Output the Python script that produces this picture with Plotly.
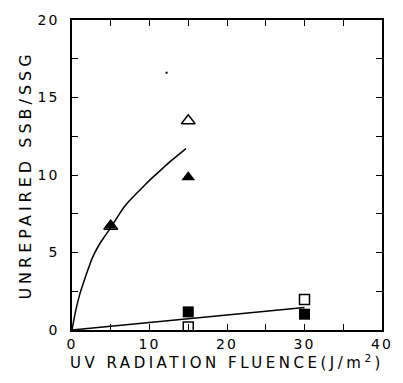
import plotly.graph_objects as go

# Data
tri_filled_x = [5, 15]
tri_filled_y = [6.75, 9.85]
tri_open_x = [5, 15]
tri_open_y = [6.7, 13.5]
sq_filled_x = [15, 30]
sq_filled_y = [1.17, 1.02]
sq_open_x = [15, 30]
sq_open_y = [0.2, 1.97]
speck_x = [12.2]
speck_y = [16.6]

curve_x = [0, 0.5, 1.0, 1.58, 2.1, 2.64, 3.5, 4.3, 5.0, 6.0, 6.9, 8.0, 9.0, 10.1, 11.2, 12.5, 13.6, 14.7]
curve_y = [0, 1.3, 2.3, 3.2, 3.95, 4.67, 5.5, 6.1, 6.6, 7.4, 8.05, 8.65, 9.15, 9.7, 10.2, 10.8, 11.25, 11.7]
line_x = [0, 30]
line_y = [0, 1.45]

x_ticks = [0, 5, 10, 15, 20, 25, 30, 35, 40]
x_ticktext = ["0", "", "10", "", "20", "", "30", "", "40"]
y_ticks = [0, 2.5, 5, 7.5, 10, 12.5, 15, 17.5, 20]
y_ticktext = ["0", "", "5", "", "10", "", "15", "", "20"]

fig = go.Figure()
fig.add_trace(go.Scatter(x=curve_x, y=curve_y, mode="lines", line=dict(color="black", width=1.5, shape="spline"), hoverinfo="skip"))
fig.add_trace(go.Scatter(x=line_x, y=line_y, mode="lines", line=dict(color="black", width=1.5), hoverinfo="skip"))
fig.add_trace(go.Scatter(x=tri_open_x, y=tri_open_y, mode="markers",
                         marker=dict(symbol="triangle-up-open", size=12, color="black", line=dict(width=1.5))))
fig.add_trace(go.Scatter(x=tri_filled_x, y=tri_filled_y, mode="markers",
                         marker=dict(symbol="triangle-up", size=12, color="black")))
fig.add_trace(go.Scatter(x=sq_open_x, y=sq_open_y, mode="markers",
                         marker=dict(symbol="square-open", size=10, color="black", line=dict(width=1.5))))
fig.add_trace(go.Scatter(x=sq_filled_x, y=sq_filled_y, mode="markers",
                         marker=dict(symbol="square", size=11, color="black")))
fig.add_trace(go.Scatter(x=speck_x, y=speck_y, mode="markers",
                         marker=dict(symbol="square", size=2, color="black")))

axis_common = dict(
    showgrid=False, zeroline=False, showline=True, linecolor="black", linewidth=1.5,
    mirror="ticks", ticks="inside", ticklen=6, tickwidth=1.2, tickcolor="black",
    tickfont=dict(family="DejaVu Sans", size=14, color="black"),
)
fig.update_xaxes(range=[0, 40], tickmode="array", tickvals=x_ticks, ticktext=x_ticktext,
                 title=dict(text="UV RADIATION FLUENCE(J/m<sup>2</sup>)", standoff=6,
                            font=dict(family="DejaVu Sans", size=15, color="black")),
                 **axis_common)
fig.update_yaxes(range=[0, 20], tickmode="array", tickvals=y_ticks, ticktext=y_ticktext,
                 ticklabelstandoff=8,
                 title=dict(text="UNREPAIRED SSB/SSG", standoff=6,
                            font=dict(family="DejaVu Sans", size=16, color="black")),
                 **axis_common)
fig.update_layout(
    width=403, height=383, showlegend=False,
    margin=dict(l=72, r=18, t=16, b=53),
    plot_bgcolor="white", paper_bgcolor="white",
)

post = """
var s=document.createElement('style');
s.textContent='.xtitle{letter-spacing:3.5px}.ytitle{letter-spacing:4px}.xtick text,.ytick text{letter-spacing:2px}';
document.head.appendChild(s);
"""
fig.write_html("out.html", post_script=post)
